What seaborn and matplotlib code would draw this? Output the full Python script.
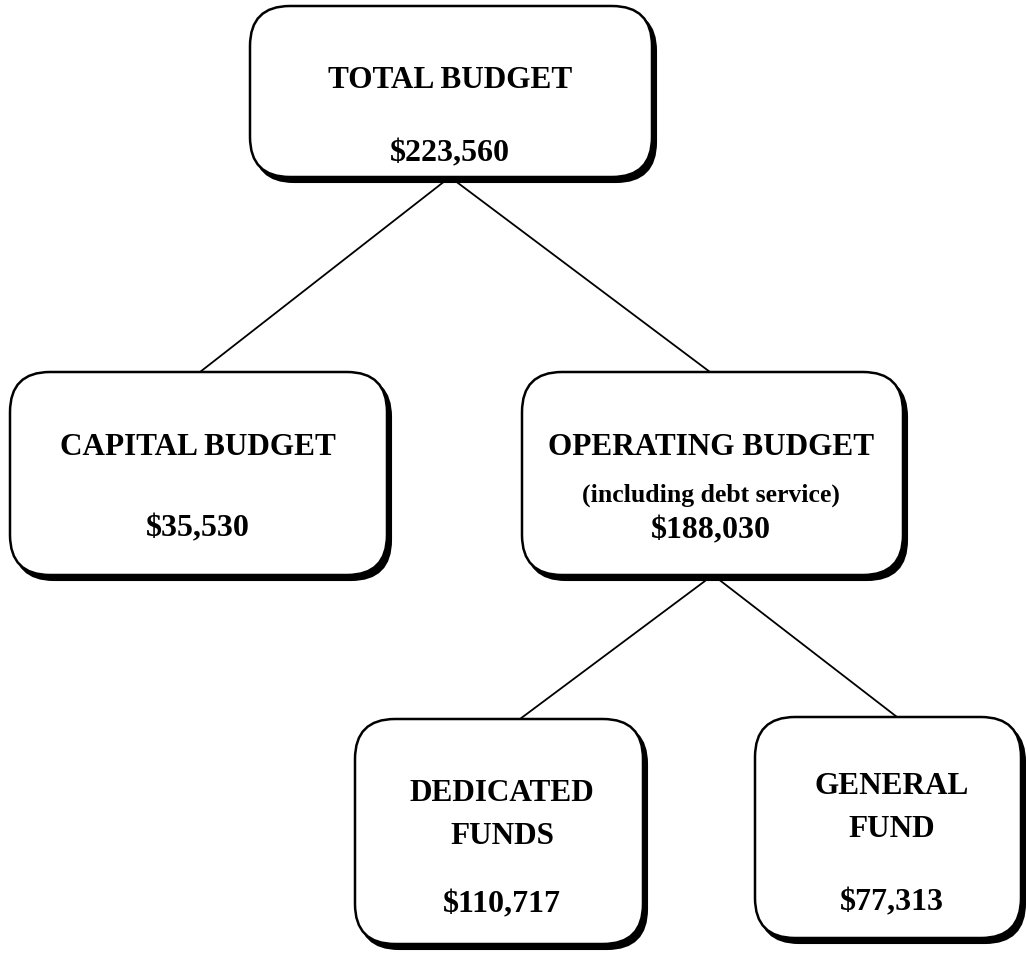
import matplotlib
matplotlib.use("Agg")
import matplotlib.pyplot as plt
from matplotlib.patches import FancyBboxPatch
import seaborn as sns

# ---- data ----
node_names = ["TOTAL BUDGET", "CAPITAL BUDGET", "OPERATING BUDGET", "DEDICATED\nFUNDS", "GENERAL\nFUND"]
node_notes = ["", "", "(including debt service)", "", ""]
node_values = [223560, 35530, 188030, 110717, 77313]
edges = [(0, 1), (0, 2), (2, 3), (2, 4)]

# ---- layout (pixels, y downward) ----
boxes = [  # x0, y0, x1, y1
    (250, 7, 652, 178),
    (10, 373, 387, 576),
    (522, 373, 903, 576),
    (355, 720, 643, 945),
    (755, 718, 1021, 939),
]
bottom_anchor_x = [450, None, 713, None, None]
top_anchor_x = [None, 200, 710, 520, 897]
text_x = [450, 198, 711, 502, 892]
title_y = [80, 448, 448, 815, 808]
value_y = [154, 529, 531, 905, 903]
note_y = [None, None, 495, None, None]

sns.set_theme(style="white")
plt.rcParams["font.family"] = ["Liberation Serif", "DejaVu Serif"]
plt.rcParams["text.color"] = "black"

fig = plt.figure(figsize=(10.26, 9.54), dpi=100)
ax = fig.add_axes([0, 0, 1, 1])
ax.set_xlim(0, 1026)
ax.set_ylim(954, 0)
ax.axis("off")

# connectors
for p, c in edges:
    ax.plot([bottom_anchor_x[p], top_anchor_x[c]], [boxes[p][3], boxes[c][1]],
            color="black", lw=1.3, zorder=1, solid_capstyle="butt")

R = 40
for i, (x0, y0, x1, y1) in enumerate(boxes):
    w, h = x1 - x0, y1 - y0
    shadow = FancyBboxPatch((x0 + 4, y0 + 5), w, h,
                            boxstyle=f"round,pad=0,rounding_size={R}",
                            fc="black", ec="black", lw=1.5, zorder=2)
    ax.add_patch(shadow)
    box = FancyBboxPatch((x0, y0), w, h,
                         boxstyle=f"round,pad=0,rounding_size={R}",
                         fc="white", ec="black", lw=1.8, zorder=3)
    ax.add_patch(box)
    ax.text(text_x[i], title_y[i], node_names[i], ha="center", va="center", fontsize=22.5,
            fontweight="bold", linespacing=1.6, color="black", zorder=4)
    if node_notes[i]:
        ax.text(text_x[i], note_y[i], node_notes[i], ha="center", va="center", fontsize=18.5,
                fontweight="bold", color="black", zorder=4)
    ax.text(text_x[i], value_y[i], f"${node_values[i]:,}", ha="center", va="center", fontsize=23,
            fontweight="bold", color="black", zorder=4)

fig.savefig("out.png", dpi=100, facecolor="white")
